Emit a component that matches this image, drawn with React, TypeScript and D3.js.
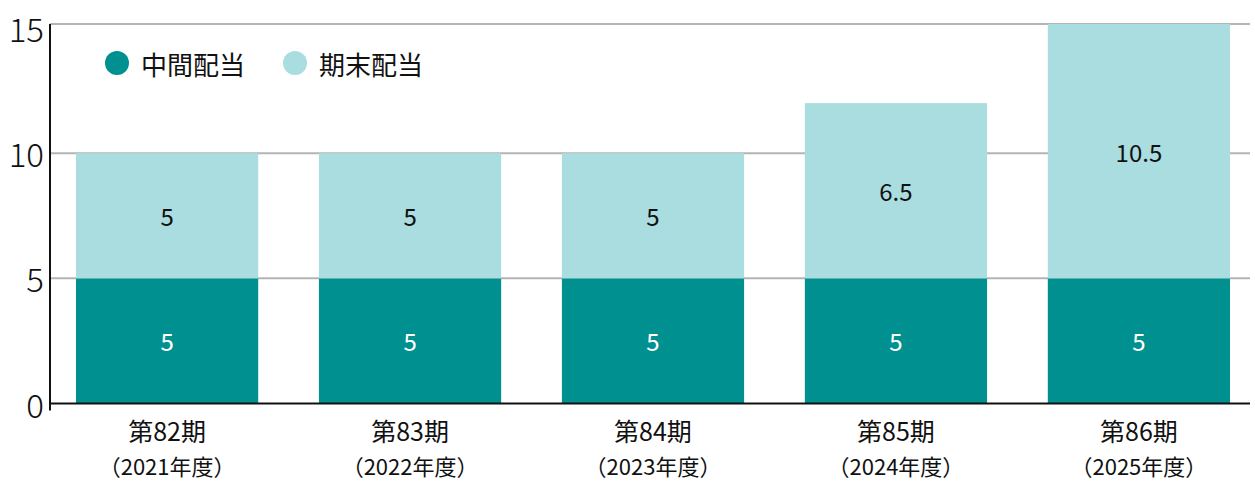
import { useEffect, useRef } from 'react';
import * as d3 from 'd3';

// 配当（円）
const periods = ['第82期', '第83期', '第84期', '第85期', '第86期'];
const fiscalYears = ['（2021年度）', '（2022年度）', '（2023年度）', '（2024年度）', '（2025年度）'];
const interim = [5, 5, 5, 5, 5];
// bar heights as drawn in the source chart; labels as printed
const yearEnd = [5, 5, 5, 7, 10.5];
const yearEndLabels = ['5', '5', '5', '6.5', '10.5'];
const yTicks = [0, 5, 10, 15];
const seriesNames = ['中間配当', '期末配当'];

const DARK = '#00908f';
const LIGHT = '#aadde0';
const FONT = "'Noto Sans CJK JP', 'Noto Sans', sans-serif";

const App = () => {
    const ref = useRef(null);

    useEffect(() => {
        const svg = d3.select(ref.current);
        svg.selectAll('*').remove();
        const width = 1255;
        const height = 490;
        const margin = { top: 24, right: 5, bottom: 86, left: 50 };

        const x = d3.scaleBand()
            .domain(periods)
            .range([margin.left, 1256])
            .paddingInner(0.25)
            .paddingOuter(0.107);

        const y = d3.scaleLinear()
            .domain([0, 15])
            .range([height - margin.bottom - 0.5, 28]);

        const rows = periods.map((p, i) => ({ p, i, a: interim[i], b: yearEnd[i] }));

        // grid (top line is the plot frame)
        svg.append('g')
            .selectAll('line').data(yTicks.filter(d => d > 0)).enter().append('line')
            .attr('x1', margin.left).attr('x2', width - margin.right)
            .attr('y1', d => (d === 15 ? margin.top : y(d)))
            .attr('y2', d => (d === 15 ? margin.top : y(d)))
            .attr('stroke', '#b4b4b4').attr('stroke-width', 2);

        svg.append('clipPath').attr('id', 'plot')
            .append('rect')
            .attr('x', margin.left).attr('y', margin.top)
            .attr('width', width - margin.left).attr('height', y(0) - margin.top);

        const bars = svg.append('g').attr('clip-path', 'url(#plot)');
        bars.selectAll('rect.a').data(rows).enter().append('rect')
            .attr('class', 'a')
            .attr('x', d => x(d.p))
            .attr('width', x.bandwidth())
            .attr('y', d => y(d.a))
            .attr('height', d => y(0) - y(d.a))
            .attr('fill', DARK);
        bars.selectAll('rect.b').data(rows).enter().append('rect')
            .attr('class', 'b')
            .attr('x', d => x(d.p))
            .attr('width', x.bandwidth())
            .attr('y', d => y(d.a + d.b))
            .attr('height', d => y(d.a) - y(d.a + d.b))
            .attr('fill', LIGHT);

        // value labels
        const lab = svg.append('g')
            .attr('font-family', FONT).attr('font-size', 24)
            .attr('text-anchor', 'middle').attr('dominant-baseline', 'central');
        lab.selectAll('text.a').data(rows).enter().append('text')
            .attr('x', d => x(d.p) + x.bandwidth() / 2)
            .attr('y', d => (y(0) + y(d.a)) / 2)
            .attr('fill', '#fff')
            .text(d => d.a);
        lab.selectAll('text.b').data(rows).enter().append('text')
            .attr('x', d => x(d.p) + x.bandwidth() / 2)
            .attr('y', d => (y(d.a) + Math.max(margin.top, y(d.a + d.b))) / 2)
            .attr('fill', '#111')
            .text(d => yearEndLabels[d.i]);

        // axes
        svg.append('line')
            .attr('x1', margin.left).attr('x2', margin.left)
            .attr('y1', margin.top).attr('y2', y(0) + 7)
            .attr('stroke', '#111').attr('stroke-width', 2);
        svg.append('line')
            .attr('x1', margin.left - 1).attr('x2', width - margin.right)
            .attr('y1', y(0)).attr('y2', y(0))
            .attr('stroke', '#111').attr('stroke-width', 2);

        svg.append('g')
            .attr('font-family', FONT).attr('font-size', 33).attr('font-weight', 300)
            .attr('text-anchor', 'end').attr('dominant-baseline', 'central')
            .selectAll('text').data(yTicks).enter().append('text')
            .attr('x', margin.left - 6)
            .attr('y', d => y(d))
            .attr('fill', '#111')
            .text(d => d);

        // category labels
        const cat = svg.append('g')
            .attr('font-family', FONT).attr('text-anchor', 'middle').attr('fill', '#111');
        cat.selectAll('text.p').data(rows).enter().append('text')
            .attr('x', d => x(d.p) + x.bandwidth() / 2)
            .attr('y', 441)
            .attr('font-size', 25)
            .text(d => d.p);
        cat.selectAll('text.fy').data(rows).enter().append('text')
            .attr('x', d => x(d.p) + x.bandwidth() / 2)
            .attr('y', 475)
            .attr('font-size', 22)
            .text(d => fiscalYears[d.i]);

        // legend
        const legend = svg.append('g').attr('font-family', FONT);
        const lx = d3.scalePoint().domain(seriesNames).range([117, 295]);
        const items = legend.selectAll('g').data(seriesNames).enter().append('g')
            .attr('transform', d => `translate(${lx(d)},63)`);
        items.append('circle').attr('r', 12)
            .attr('fill', (d, i) => (i === 0 ? DARK : LIGHT));
        items.append('text')
            .attr('x', 24).attr('dominant-baseline', 'central')
            .attr('font-size', 26).attr('fill', '#111')
            .text(d => d);
    }, []);

    return (
        <div style={{ position: 'absolute', left: 0, top: 0 }}>
            <svg ref={ref} width={1255} height={490} />
        </div>
    );
};

export default App;
